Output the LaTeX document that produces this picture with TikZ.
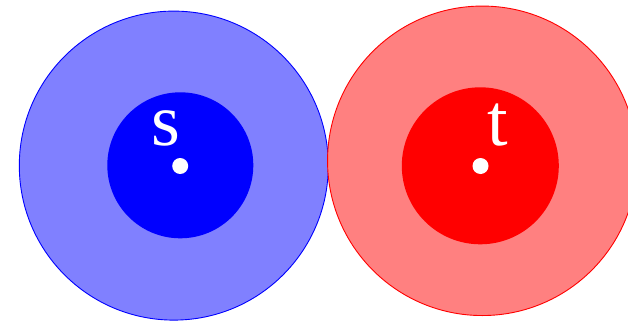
\documentclass[tikz,border=0pt]{standalone}
\usepackage{fontspec}
\setmainfont{Liberation Serif}
\begin{document}
\begin{tikzpicture}[x=1pt,y=-1pt,
  outer/.style={circle,inner sep=0pt,minimum size=309pt,line width=0.9pt},
  inner/.style={circle,inner sep=0pt},
  dot/.style={circle,fill=white,inner sep=0pt,minimum size=16pt},
  lbl/.style={text=white,font=\fontsize{74}{80}\selectfont,anchor=base,inner sep=0pt}]
\useasboundingbox (0,0) rectangle (628,321);
\node[outer,draw=blue,fill=blue!50] (bo) at (173.8,165.6) {};
\node[outer,draw=red,fill=red!50,minimum size=309.5pt] (ro) at (482.3,160.8) {};
\node[inner,fill=blue,minimum size=146pt] (bi) at (180.3,165.3) {};
\node[inner,fill=red,minimum size=157pt] (ri) at (480.3,165.8) {};
\node[dot] (s0) at (180.2,166) {};
\node[dot] (t0) at (480.5,166) {};
\node[lbl] (s) at (165.5,145) {s};
\node[lbl] (t) at (497.5,145) {t};
\end{tikzpicture}
\end{document}
